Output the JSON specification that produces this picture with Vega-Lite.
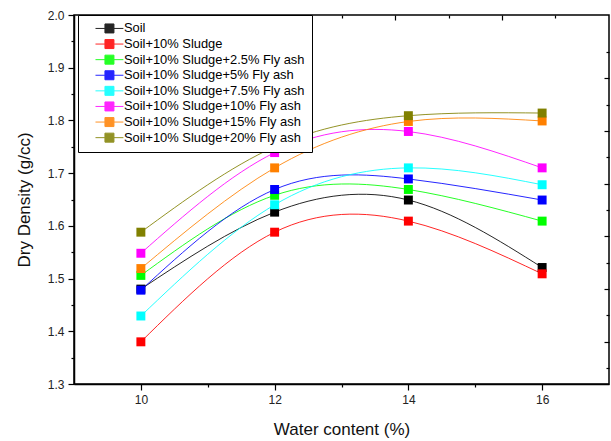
{
  "$schema": "https://vega.github.io/schema/vega-lite/v6.json",
  "autosize": {"type": "none"},
  "width": 535,
  "height": 369,
  "padding": {"left": 74, "top": 15, "right": 2, "bottom": 57},
  "background": "white",
  "config": {
    "view": {"stroke": "black", "strokeWidth": 1.5},
    "axis": {"domainColor": "black", "domainWidth": 1.5, "tickColor": "black", "tickWidth": 1.2, "labelColor": "#222", "labelFont": "Liberation Sans", "labelFontSize": 12, "titleFont": "Liberation Sans", "titleFontSize": 17, "titleFontWeight": "normal", "titleColor": "#111", "grid": false}
  },
  "data": {"values": [
    {"w": 10, "d": 1.480, "s": "Soil"},
    {"w": 12, "d": 1.626, "s": "Soil"},
    {"w": 14, "d": 1.649, "s": "Soil"},
    {"w": 16, "d": 1.521, "s": "Soil"},
    {"w": 10, "d": 1.380, "s": "Soil+10% Sludge"},
    {"w": 12, "d": 1.588, "s": "Soil+10% Sludge"},
    {"w": 14, "d": 1.609, "s": "Soil+10% Sludge"},
    {"w": 16, "d": 1.509, "s": "Soil+10% Sludge"},
    {"w": 10, "d": 1.506, "s": "Soil+10% Sludge+2.5% Fly ash"},
    {"w": 12, "d": 1.658, "s": "Soil+10% Sludge+2.5% Fly ash"},
    {"w": 14, "d": 1.669, "s": "Soil+10% Sludge+2.5% Fly ash"},
    {"w": 16, "d": 1.609, "s": "Soil+10% Sludge+2.5% Fly ash"},
    {"w": 10, "d": 1.478, "s": "Soil+10% Sludge+5% Fly ash"},
    {"w": 12, "d": 1.669, "s": "Soil+10% Sludge+5% Fly ash"},
    {"w": 14, "d": 1.689, "s": "Soil+10% Sludge+5% Fly ash"},
    {"w": 16, "d": 1.649, "s": "Soil+10% Sludge+5% Fly ash"},
    {"w": 10, "d": 1.429, "s": "Soil+10% Sludge+7.5% Fly ash"},
    {"w": 12, "d": 1.640, "s": "Soil+10% Sludge+7.5% Fly ash"},
    {"w": 14, "d": 1.710, "s": "Soil+10% Sludge+7.5% Fly ash"},
    {"w": 16, "d": 1.678, "s": "Soil+10% Sludge+7.5% Fly ash"},
    {"w": 10, "d": 1.548, "s": "Soil+10% Sludge+10% Fly ash"},
    {"w": 12, "d": 1.739, "s": "Soil+10% Sludge+10% Fly ash"},
    {"w": 14, "d": 1.779, "s": "Soil+10% Sludge+10% Fly ash"},
    {"w": 16, "d": 1.710, "s": "Soil+10% Sludge+10% Fly ash"},
    {"w": 10, "d": 1.519, "s": "Soil+10% Sludge+15% Fly ash"},
    {"w": 12, "d": 1.710, "s": "Soil+10% Sludge+15% Fly ash"},
    {"w": 14, "d": 1.798, "s": "Soil+10% Sludge+15% Fly ash"},
    {"w": 16, "d": 1.799, "s": "Soil+10% Sludge+15% Fly ash"},
    {"w": 10, "d": 1.588, "s": "Soil+10% Sludge+20% Fly ash"},
    {"w": 12, "d": 1.750, "s": "Soil+10% Sludge+20% Fly ash"},
    {"w": 14, "d": 1.809, "s": "Soil+10% Sludge+20% Fly ash"},
    {"w": 16, "d": 1.814, "s": "Soil+10% Sludge+20% Fly ash"}
  ]},
  "encoding": {
    "color": {
      "field": "s", "type": "nominal",
      "scale": {
        "domain": ["Soil", "Soil+10% Sludge", "Soil+10% Sludge+2.5% Fly ash", "Soil+10% Sludge+5% Fly ash", "Soil+10% Sludge+7.5% Fly ash", "Soil+10% Sludge+10% Fly ash", "Soil+10% Sludge+15% Fly ash", "Soil+10% Sludge+20% Fly ash"],
        "range": ["#000000", "#FF0000", "#00FF00", "#0000FF", "#00FFFF", "#FF00FF", "#FF8000", "#808000"]
      },
      "legend": {
        "orient": "none", "legendX": 4, "legendY": 0, "title": null,
        "strokeColor": "black", "fillColor": "white", "padding": 7,
        "symbolType": "M-3.1,0H-1M1,0H3.1M-1,-1H1V1H-1Z",
        "symbolSize": 81, "symbolOffset": 18, "labelOffset": 8,
        "symbolStrokeWidth": 1,
        "labelFont": "Liberation Sans", "labelFontSize": 12.9, "labelColor": "black", "labelLimit": 400,
        "rowPadding": 0.6,
        "encode": {"symbols": {"update": {"fill": {"scale": "color", "field": "value"}, "stroke": {"scale": "color", "field": "value"}, "opacity": {"value": 1}, "fillOpacity": {"value": 1}}}}
      }
    }
  },
  "layer": [
    {
      "mark": {"type": "line", "interpolate": "natural", "strokeWidth": 1, "opacity": 0.85},
      "encoding": {
        "x": {"field": "w", "type": "quantitative", "scale": {"domain": [9, 17], "nice": false, "zero": false},
          "axis": {"orient": "bottom", "title": "Water content (%)", "values": [10, 11, 12, 13, 14, 15, 16],
            "labelExpr": "datum.value % 2 == 0 ? format(datum.value, 'd') : ''",
            "tickSize": {"condition": {"test": "datum.value % 2 == 0", "value": 6}, "value": 3},
            "labelPadding": 4, "titlePadding": 16}},
        "y": {"field": "d", "type": "quantitative", "scale": {"domain": [1.3, 2.0], "nice": false, "zero": false},
          "axis": {"orient": "left", "title": "Dry Density (g/cc)", "values": [1.3, 1.35, 1.4, 1.45, 1.5, 1.55, 1.6, 1.65, 1.7, 1.75, 1.8, 1.85, 1.9, 1.95, 2.0],
            "labelExpr": "round(datum.value * 100) % 10 == 0 ? format(datum.value, '.1f') : ''",
            "tickSize": {"condition": {"test": "round(datum.value * 100) % 10 == 0", "value": 6}, "value": 3},
            "labelPadding": 4, "titlePadding": 14}}
      }
    },
    {
      "mark": {"type": "point", "shape": "square", "filled": true, "size": 80, "opacity": 1},
      "encoding": {
        "x": {"field": "w", "type": "quantitative",
          "axis": {"orient": "top", "title": null, "labels": false, "domain": false, "offset": -5, "tickSize": 5,
            "values": [10.6, 12.2, 13.8, 15.4]}},
        "y": {"field": "d", "type": "quantitative",
          "axis": {"orient": "right", "title": null, "labels": false, "domain": false, "offset": -5, "tickSize": 5,
            "values": [1.38, 1.48, 1.58, 1.68, 1.78, 1.88]}}
      }
    },
    {
      "mark": {"type": "point", "opacity": 0},
      "encoding": {
        "x": {"field": "w", "type": "quantitative",
          "axis": {"orient": "top", "title": null, "labels": false, "domain": false, "offset": -3, "tickSize": 3,
            "values": [9.8, 11.4, 13, 14.6, 16.2]}},
        "y": {"field": "d", "type": "quantitative",
          "axis": {"orient": "right", "title": null, "labels": false, "domain": false, "offset": -3, "tickSize": 3,
            "values": [1.33, 1.43, 1.53, 1.63, 1.73, 1.83, 1.93]}}
      }
    }
  ],
  "resolve": {"axis": {"x": "independent", "y": "independent"}}
}
